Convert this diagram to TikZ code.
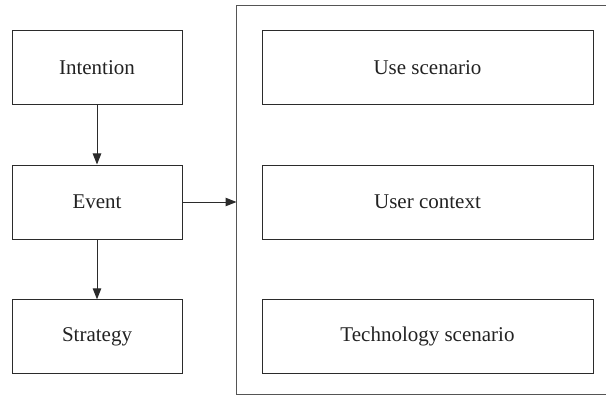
\documentclass[tikz,border=0pt]{standalone}
\usepackage{fontspec}
\setmainfont{Liberation Serif}
\usetikzlibrary{arrows.meta}
\definecolor{inkline}{HTML}{2B2B2B}
\definecolor{inktext}{HTML}{222222}
\definecolor{framegray}{HTML}{555555}
\tikzset{
  stagebox/.style={draw=inkline, line width=1pt, minimum width=170pt, minimum height=74pt,
    inner sep=0pt, text=inktext, font=\fontsize{21}{24}\selectfont},
  scenebox/.style={stagebox, minimum width=331pt},
  flow/.style={draw=inkline, line width=1pt, -{Triangle[length=11pt,width=8.5pt]}},
}
\begin{document}
\begin{tikzpicture}[x=1pt, y=-1pt]
  \useasboundingbox (0,0) rectangle (606,396);

  % left column: intention -> event -> strategy
  \node[stagebox] (intent) at (97,67.2) {Intention};
  \node[stagebox] (event)  at (97,202)  {Event};
  \node[stagebox] (strat)  at (97,336.8) {Strategy};

  % context frame, open towards the right edge
  \draw[framegray, line width=1pt] (606,6) -- (236.5,6) -- (236.5,394.5) -- (606,394.5);
  \coordinate (frameW) at (236.5,202);

  % boxes inside the frame
  \node[scenebox] (usescn)  at (427.5,67.2)  {Use scenario};
  \node[scenebox] (userctx) at (427.5,202)   {User context};
  \node[scenebox] (techscn) at (427.5,336.8) {Technology scenario};

  % connectors
  \draw[flow] (intent.south) -- (event.north);
  \draw[flow] (event.south) -- (strat.north);
  \draw[flow] (event.east) -- (frameW);
\end{tikzpicture}
\end{document}
